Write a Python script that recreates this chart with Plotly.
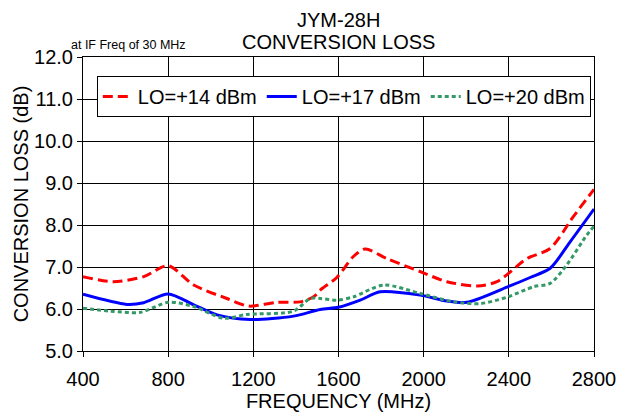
import plotly.graph_objects as go

freq_14 = [400, 542, 685, 800, 920, 1076, 1177, 1311, 1420, 1483, 1514, 1592, 1670, 1725, 1827, 1984, 2109, 2250, 2344, 2485, 2594, 2703, 2800]
loss_14 = [6.77, 6.65, 6.77, 7.03, 6.57, 6.25, 6.07, 6.16, 6.17, 6.29, 6.45, 6.75, 7.25, 7.43, 7.20, 6.89, 6.65, 6.55, 6.65, 7.20, 7.44, 8.20, 8.85]

freq_17 = [400, 606, 685, 800, 920, 1030, 1185, 1389, 1514, 1600, 1702, 1796, 1984, 2109, 2203, 2391, 2500, 2594, 2688, 2800]
loss_17 = [6.35, 6.11, 6.15, 6.36, 6.10, 5.86, 5.75, 5.83, 5.99, 6.04, 6.21, 6.41, 6.33, 6.19, 6.16, 6.52, 6.75, 6.97, 7.60, 8.38]

freq_20 = [400, 528, 669, 800, 920, 1060, 1170, 1389, 1467, 1514, 1592, 1670, 1812, 1984, 2141, 2266, 2391, 2516, 2594, 2672, 2766, 2800]
loss_20 = [6.02, 5.95, 5.92, 6.16, 6.06, 5.78, 5.87, 5.95, 6.25, 6.25, 6.21, 6.29, 6.57, 6.37, 6.17, 6.13, 6.28, 6.53, 6.61, 7.05, 7.76, 7.97]

x_ticks = [400, 800, 1200, 1600, 2000, 2400, 2800]
y_ticks = [5.0, 6.0, 7.0, 8.0, 9.0, 10.0, 11.0, 12.0]

FONT = "Liberation Sans, Arial, sans-serif"
FS = 20

fig = go.Figure()
fig.add_trace(go.Scatter(x=freq_14, y=loss_14, mode="lines", name="LO=+14 dBm",
                         line=dict(color="#ff0000", width=3, dash="10px,5px", shape="spline", smoothing=0.8)))
fig.add_trace(go.Scatter(x=freq_17, y=loss_17, mode="lines", name="LO=+17 dBm",
                         line=dict(color="#0000ff", width=3, shape="spline", smoothing=0.8)))
fig.add_trace(go.Scatter(x=freq_20, y=loss_20, mode="lines", name="LO=+20 dBm",
                         line=dict(color="#339966", width=3, dash="4px,3px", shape="spline", smoothing=0.8)))

fig.update_layout(
    width=617, height=415,
    margin=dict(l=83, r=23, t=57, b=64, autoexpand=False),
    paper_bgcolor="white", plot_bgcolor="white",
    font=dict(family=FONT, size=FS, color="black"),
    legend=dict(orientation="h", x=0.027, y=0.935, xanchor="left", yanchor="top",
                bgcolor="white", bordercolor="black", borderwidth=1,
                font=dict(size=FS, family=FONT), itemwidth=30, tracegroupgap=0),
    showlegend=True,
)
fig.update_xaxes(range=[400, 2800], tickvals=x_ticks, ticktext=[str(v) for v in x_ticks],
                 showgrid=True, gridcolor="black", gridwidth=1,
                 showline=True, linecolor="black", linewidth=1, mirror=True,
                 ticks="outside", ticklen=5, tickcolor="black", automargin=False,
                 tickfont=dict(size=FS), ticklabelstandoff=5,
                 title=dict(text="FREQUENCY (MHz)", standoff=0, font=dict(size=FS)),
                 zeroline=False)
fig.update_yaxes(range=[5, 12], tickvals=y_ticks, ticktext=[f"{v:.1f}" for v in y_ticks],
                 showgrid=True, gridcolor="black", gridwidth=1,
                 showline=True, linecolor="black", linewidth=1, mirror=True,
                 ticks="outside", ticklen=5, tickcolor="black", automargin=False,
                 tickfont=dict(size=FS),
                 title=dict(text="CONVERSION LOSS (dB)", standoff=0, font=dict(size=FS)),
                 zeroline=False)

fig.add_annotation(text="JYM-28H", xref="paper", yref="paper", x=0.5, y=1.0, yshift=37,
                   xanchor="center", yanchor="middle", showarrow=False, font=dict(size=FS, family=FONT))
fig.add_annotation(text="CONVERSION LOSS", xref="paper", yref="paper", x=0.5, y=1.0, yshift=15,
                   xanchor="center", yanchor="middle", showarrow=False, font=dict(size=FS, family=FONT))
fig.add_annotation(text="at IF Freq of 30 MHz", xref="paper", yref="paper",
                   x=-0.027, y=1.0, yshift=12, xanchor="left", yanchor="middle", showarrow=False,
                   font=dict(size=12.5, family=FONT))

fig.write_html("out.html", config={"displayModeBar": False},
               post_script="document.body.style.margin='0px';")
